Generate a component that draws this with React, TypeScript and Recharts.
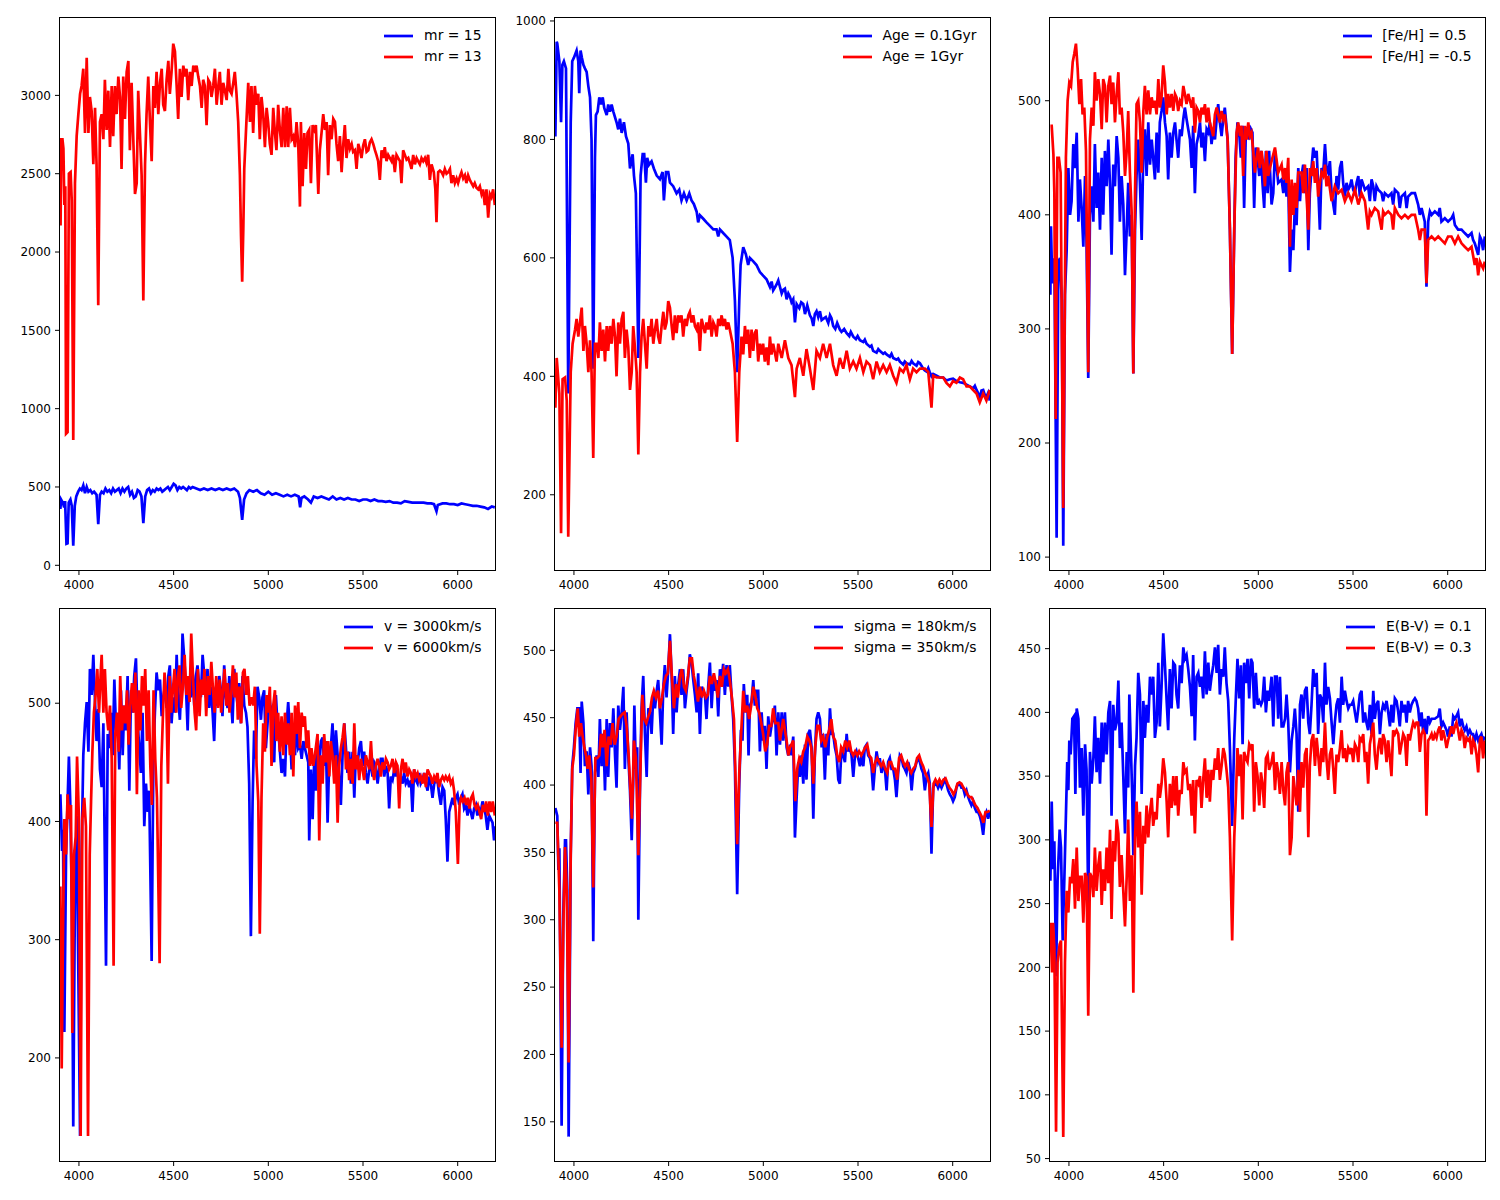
import React from 'react'
import { LineChart, Line, XAxis, YAxis } from 'recharts'

type Pt = [number, number]

const WAVE_TICKS = [4000, 4500, 5000, 5500, 6000]
const WAVE_RANGE: [number, number] = [3900, 6197]

// panel 1: apparent magnitude
const mr15: Pt[] = [
  [3902, 360], [3906, 420], [3915, 400], [3922, 370], [3927, 410], [3934, 137], [3940, 140], [3946, 400], [3955, 420], [3962, 380],
  [3970, 125], [3978, 380], [3986, 440], [3996, 470], [4005, 490], [4014, 480], [4023, 510], [4032, 460], [4041, 500], [4050, 470],
  [4060, 480], [4070, 460], [4080, 470], [4093, 450], [4102, 262], [4111, 450], [4120, 470], [4130, 460], [4140, 490], [4150, 470],
  [4160, 480], [4170, 460], [4180, 490], [4190, 470], [4200, 480], [4210, 490], [4220, 460], [4230, 490], [4240, 470], [4250, 490],
  [4260, 500], [4270, 450], [4280, 470], [4290, 430], [4300, 440], [4310, 480], [4320, 470], [4330, 440], [4340, 269], [4350, 440],
  [4360, 480], [4370, 490], [4380, 460], [4390, 480], [4400, 470], [4410, 490], [4420, 480], [4430, 490], [4440, 470], [4450, 480],
  [4460, 490], [4470, 500], [4480, 480], [4490, 500], [4500, 520], [4510, 510], [4520, 480], [4530, 500], [4540, 490], [4550, 500],
  [4560, 490], [4570, 480], [4580, 500], [4590, 490], [4600, 500], [4620, 490], [4640, 480], [4660, 490], [4680, 480], [4700, 490],
  [4720, 480], [4740, 490], [4760, 480], [4780, 490], [4800, 480], [4820, 490], [4840, 470], [4850, 430], [4862, 290], [4872, 420],
  [4885, 460], [4900, 480], [4920, 470], [4940, 480], [4960, 460], [4980, 450], [5000, 470], [5020, 450], [5040, 460], [5060, 450],
  [5080, 440], [5100, 450], [5120, 440], [5140, 450], [5160, 440], [5168, 370], [5175, 430], [5190, 440], [5210, 420], [5225, 400],
  [5240, 440], [5260, 430], [5280, 440], [5300, 430], [5320, 420], [5340, 440], [5360, 420], [5380, 430], [5400, 420], [5420, 430],
  [5440, 420], [5460, 420], [5480, 410], [5500, 420], [5520, 420], [5540, 410], [5560, 420], [5580, 410], [5600, 410], [5620, 405],
  [5640, 410], [5660, 400], [5680, 400], [5700, 395], [5720, 410], [5740, 405], [5760, 400], [5780, 400], [5800, 400], [5820, 400],
  [5840, 395], [5860, 395], [5875, 390], [5888, 345], [5895, 385], [5920, 395], [5940, 395], [5960, 390], [5980, 390], [6000, 385],
  [6020, 395], [6040, 390], [6060, 385], [6080, 380], [6100, 380], [6120, 375], [6140, 370], [6160, 360], [6180, 375], [6196, 370],
]
const mr13: Pt[] = [
  [3903, 2170], [3907, 2720], [3913, 2720], [3918, 2660], [3923, 2300], [3928, 2420], [3932, 840], [3940, 850], [3947, 2500], [3956, 2510],
  [3962, 2330], [3970, 800], [3979, 2440], [3988, 2740], [3997, 2880], [4006, 3010], [4014, 3060], [4023, 3170], [4032, 2760], [4041, 3240],
  [4050, 2760], [4058, 2990], [4067, 2900], [4076, 2560], [4085, 2920], [4093, 2560], [4102, 1660], [4111, 2830], [4120, 2880], [4129, 2720],
  [4137, 3100], [4146, 2780], [4155, 3030], [4164, 2670], [4173, 3060], [4181, 2740], [4190, 3060], [4199, 2880], [4208, 3120], [4217, 2990],
  [4225, 2530], [4234, 3120], [4243, 2850], [4252, 3150], [4261, 3220], [4269, 2650], [4278, 3080], [4287, 2720], [4296, 2370], [4305, 2440],
  [4313, 3030], [4322, 2760], [4331, 2490], [4340, 1690], [4349, 2560], [4357, 2880], [4366, 3120], [4375, 2830], [4384, 2580], [4393, 3060],
  [4401, 2920], [4410, 3150], [4419, 2880], [4428, 3080], [4437, 3170], [4445, 2940], [4454, 2900], [4463, 3100], [4472, 3220], [4480, 3010],
  [4489, 3150], [4498, 3330], [4507, 3280], [4516, 3060], [4524, 2850], [4533, 3170], [4542, 2990], [4551, 3190], [4560, 3120], [4568, 3170],
  [4577, 2970], [4586, 3150], [4595, 3060], [4604, 3190], [4612, 3150], [4621, 3190], [4630, 3120], [4639, 3060], [4648, 2920], [4656, 3100],
  [4665, 3060], [4674, 2810], [4683, 3100], [4692, 3080], [4700, 2990], [4709, 3060], [4718, 3170], [4727, 2940], [4736, 3060], [4744, 3150],
  [4753, 2940], [4762, 3080], [4771, 3030], [4780, 2970], [4789, 3170], [4797, 3030], [4806, 3010], [4815, 3080], [4823, 3150], [4832, 3010],
  [4841, 2830], [4850, 2490], [4856, 2100], [4862, 1810], [4868, 2150], [4873, 2530], [4885, 2850], [4894, 3080], [4903, 2830], [4911, 3060],
  [4920, 2760], [4929, 3060], [4938, 2940], [4947, 3010], [4955, 2720], [4964, 2990], [4973, 2880], [4982, 2670], [4991, 2920], [4999, 2830],
  [5008, 2690], [5017, 2620], [5026, 2920], [5035, 2760], [5043, 2650], [5052, 2940], [5061, 2780], [5070, 2670], [5079, 2920], [5088, 2670],
  [5097, 2930], [5105, 2670], [5114, 2920], [5123, 2720], [5132, 2740], [5141, 2670], [5149, 2830], [5158, 2690], [5167, 2290], [5172, 2830],
  [5181, 2420], [5190, 2760], [5199, 2530], [5207, 2760], [5216, 2780], [5225, 2440], [5234, 2810], [5243, 2780], [5251, 2810], [5264, 2370],
  [5272, 2650], [5281, 2760], [5290, 2880], [5299, 2780], [5308, 2830], [5316, 2490], [5325, 2810], [5334, 2720], [5343, 2850], [5352, 2830],
  [5360, 2690], [5369, 2580], [5378, 2740], [5387, 2510], [5396, 2690], [5404, 2810], [5413, 2600], [5422, 2720], [5431, 2660], [5440, 2690],
  [5448, 2640], [5457, 2650], [5466, 2530], [5475, 2690], [5484, 2650], [5492, 2600], [5501, 2680], [5510, 2720], [5519, 2640], [5528, 2650],
  [5536, 2700], [5545, 2720], [5554, 2690], [5563, 2650], [5571, 2620], [5580, 2580], [5589, 2460], [5598, 2650], [5607, 2600], [5615, 2670],
  [5624, 2580], [5633, 2620], [5642, 2600], [5651, 2580], [5659, 2620], [5668, 2510], [5677, 2620], [5686, 2600], [5695, 2580], [5703, 2440],
  [5712, 2650], [5721, 2620], [5730, 2590], [5739, 2600], [5747, 2570], [5756, 2530], [5765, 2620], [5774, 2560], [5783, 2600], [5791, 2580],
  [5800, 2560], [5809, 2600], [5818, 2580], [5827, 2600], [5835, 2570], [5844, 2620], [5853, 2460], [5862, 2560], [5874, 2510], [5882, 2400],
  [5888, 2190], [5893, 2400], [5897, 2510], [5906, 2520], [5915, 2510], [5923, 2490], [5932, 2530], [5941, 2500], [5950, 2510], [5959, 2530],
  [5967, 2440], [5976, 2490], [5985, 2440], [5994, 2470], [6002, 2440], [6011, 2480], [6020, 2510], [6029, 2470], [6038, 2490], [6046, 2440],
  [6055, 2490], [6064, 2460], [6073, 2440], [6082, 2420], [6090, 2440], [6099, 2410], [6108, 2400], [6117, 2420], [6126, 2370], [6134, 2400],
  [6143, 2300], [6152, 2400], [6161, 2220], [6170, 2370], [6178, 2350], [6187, 2400], [6196, 2300],
]

// panel 2: age
const age01: Pt[] = [
  [3902, 805], [3909, 965], [3912, 962], [3923, 932], [3932, 829], [3939, 926], [3947, 932], [3958, 920], [3970, 371], [3983, 829],
  [3991, 932], [4000, 938], [4014, 950], [4023, 932], [4028, 878], [4035, 950], [4042, 938], [4050, 926], [4058, 920], [4067, 914],
  [4076, 890], [4085, 871], [4093, 799], [4102, 413], [4111, 769], [4116, 841], [4125, 847], [4134, 871], [4143, 859], [4152, 871],
  [4160, 853], [4173, 841], [4181, 859], [4190, 847], [4199, 859], [4208, 847], [4225, 829], [4234, 817], [4243, 835], [4252, 811],
  [4264, 829], [4275, 805], [4287, 793], [4296, 751], [4310, 775], [4317, 739], [4327, 709], [4340, 431], [4352, 739], [4363, 775],
  [4371, 775], [4380, 727], [4387, 769], [4396, 757], [4410, 763], [4422, 751], [4437, 739], [4454, 733], [4468, 745], [4475, 697],
  [4486, 745], [4498, 745], [4507, 727], [4524, 721], [4542, 709], [4556, 715], [4568, 697], [4581, 709], [4595, 697], [4609, 709],
  [4621, 697], [4633, 691], [4648, 678], [4656, 660], [4665, 672], [4683, 666], [4700, 660], [4718, 654], [4736, 648], [4753, 648],
  [4762, 636], [4771, 648], [4788, 642], [4806, 636], [4823, 630], [4838, 600], [4850, 528], [4862, 407], [4873, 528], [4880, 588],
  [4894, 618], [4908, 606], [4920, 588], [4929, 600], [4947, 594], [4964, 588], [4982, 576], [4999, 570], [5017, 564], [5035, 551],
  [5044, 560], [5052, 545], [5061, 550], [5070, 555], [5079, 562], [5097, 540], [5105, 546], [5114, 548], [5123, 530], [5132, 540],
  [5141, 534], [5149, 525], [5158, 530], [5167, 491], [5176, 522], [5190, 515], [5200, 525], [5211, 522], [5220, 505], [5232, 520],
  [5246, 503], [5255, 498], [5264, 485], [5272, 505], [5281, 510], [5290, 500], [5299, 510], [5308, 495], [5316, 497], [5330, 500],
  [5343, 490], [5352, 503], [5360, 498], [5369, 485], [5380, 480], [5390, 490], [5404, 479], [5413, 475], [5427, 480], [5440, 473],
  [5454, 468], [5462, 475], [5475, 467], [5489, 463], [5498, 468], [5510, 461], [5528, 458], [5536, 462], [5545, 455], [5563, 450],
  [5571, 452], [5580, 443], [5598, 440], [5607, 446], [5615, 443], [5633, 438], [5642, 440], [5651, 437], [5668, 433], [5677, 438],
  [5686, 431], [5703, 428], [5712, 430], [5721, 425], [5739, 420], [5747, 425], [5756, 422], [5774, 420], [5783, 426], [5791, 422],
  [5809, 418], [5818, 424], [5827, 422], [5835, 418], [5844, 413], [5853, 410], [5862, 408], [5871, 414], [5879, 407], [5888, 400],
  [5897, 404], [5915, 401], [5932, 398], [5950, 398], [5967, 393], [5985, 395], [6002, 396], [6020, 392], [6038, 390], [6055, 389],
  [6073, 386], [6090, 383], [6108, 380], [6117, 384], [6126, 377], [6134, 372], [6143, 362], [6152, 376], [6161, 377], [6170, 368],
  [6178, 365], [6187, 372], [6196, 359],
]
const age1: Pt[] = [
  [3902, 347], [3909, 431], [3923, 371], [3932, 135], [3940, 395], [3953, 398], [3962, 359], [3970, 129], [3983, 407], [3993, 455],
  [4006, 479], [4014, 497], [4023, 467], [4032, 491], [4041, 516], [4050, 443], [4058, 485], [4067, 455], [4076, 407], [4085, 461],
  [4093, 407], [4102, 262], [4111, 455], [4120, 455], [4129, 431], [4137, 491], [4146, 443], [4155, 479], [4164, 425], [4173, 485],
  [4181, 443], [4190, 485], [4199, 455], [4208, 497], [4217, 467], [4225, 400], [4234, 491], [4243, 455], [4252, 497], [4261, 509],
  [4269, 431], [4278, 479], [4287, 449], [4296, 377], [4305, 407], [4313, 485], [4322, 449], [4331, 407], [4340, 268], [4349, 407],
  [4357, 467], [4366, 497], [4375, 455], [4384, 413], [4393, 485], [4401, 467], [4410, 497], [4419, 455], [4428, 479], [4437, 497],
  [4445, 467], [4454, 455], [4463, 485], [4472, 509], [4480, 479], [4489, 491], [4498, 527], [4507, 516], [4516, 485], [4524, 461],
  [4533, 503], [4542, 473], [4551, 503], [4560, 491], [4568, 503], [4577, 467], [4586, 497], [4595, 485], [4604, 503], [4612, 509],
  [4621, 491], [4630, 503], [4639, 485], [4648, 479], [4656, 491], [4665, 443], [4674, 497], [4683, 485], [4692, 473], [4700, 491],
  [4709, 479], [4718, 503], [4727, 467], [4736, 491], [4744, 485], [4753, 467], [4762, 497], [4771, 485], [4780, 503], [4788, 485],
  [4797, 497], [4806, 479], [4815, 491], [4823, 479], [4838, 455], [4850, 407], [4862, 289], [4873, 407], [4885, 467], [4894, 437],
  [4903, 485], [4911, 455], [4920, 479], [4929, 431], [4938, 479], [4947, 443], [4955, 473], [4964, 479], [4973, 425], [4982, 455],
  [4991, 437], [4999, 455], [5008, 425], [5017, 449], [5026, 419], [5035, 467], [5043, 437], [5052, 455], [5070, 425], [5079, 455],
  [5097, 431], [5114, 461], [5132, 431], [5149, 419], [5167, 365], [5176, 413], [5193, 431], [5211, 401], [5228, 446], [5246, 413],
  [5264, 377], [5281, 443], [5299, 431], [5316, 455], [5334, 431], [5352, 455], [5369, 419], [5387, 401], [5404, 431], [5422, 413],
  [5440, 443], [5457, 413], [5475, 425], [5492, 413], [5510, 431], [5528, 407], [5545, 425], [5563, 419], [5580, 395], [5598, 425],
  [5615, 407], [5633, 419], [5651, 407], [5668, 419], [5686, 401], [5703, 389], [5721, 413], [5739, 407], [5756, 419], [5774, 395],
  [5791, 413], [5809, 407], [5827, 413], [5853, 413], [5871, 407], [5888, 347], [5897, 401], [5915, 398], [5950, 398], [5967, 389],
  [5985, 383], [6002, 392], [6020, 389], [6038, 398], [6055, 395], [6073, 383], [6090, 383], [6108, 377], [6126, 371], [6143, 356],
  [6161, 371], [6178, 359], [6196, 377],
]

// panel 3: metallicity
const feh05: Pt[] = [
  [3902, 330], [3905, 390], [3912, 340], [3923, 362], [3935, 117], [3944, 359], [3953, 362], [3962, 325], [3970, 110], [3979, 330],
  [3988, 369], [3997, 441], [4006, 400], [4014, 412], [4023, 462], [4032, 441], [4041, 472], [4050, 394], [4058, 431], [4067, 406],
  [4076, 372], [4085, 434], [4093, 375], [4102, 257], [4111, 400], [4120, 425], [4129, 394], [4137, 462], [4146, 406], [4155, 437],
  [4164, 387], [4173, 450], [4181, 400], [4190, 456], [4199, 425], [4208, 466], [4217, 425], [4225, 365], [4234, 444], [4243, 425],
  [4252, 469], [4261, 450], [4269, 394], [4278, 434], [4287, 409], [4296, 347], [4305, 387], [4313, 428], [4322, 381], [4331, 400],
  [4340, 261], [4349, 387], [4357, 434], [4366, 466], [4375, 428], [4384, 378], [4393, 456], [4401, 475], [4410, 434], [4419, 481],
  [4428, 444], [4437, 466], [4445, 450], [4454, 431], [4463, 472], [4472, 437], [4480, 481], [4489, 491], [4498, 503], [4507, 481],
  [4516, 469], [4524, 431], [4533, 472], [4542, 450], [4551, 472], [4560, 481], [4568, 466], [4577, 450], [4586, 475], [4595, 469],
  [4604, 484], [4612, 494], [4621, 484], [4630, 475], [4639, 466], [4648, 441], [4656, 478], [4665, 419], [4674, 462], [4683, 469],
  [4692, 481], [4700, 459], [4709, 472], [4718, 447], [4727, 475], [4736, 472], [4744, 481], [4753, 462], [4762, 475], [4771, 466],
  [4780, 484], [4788, 497], [4797, 481], [4806, 469], [4815, 484], [4823, 494], [4838, 466], [4850, 387], [4862, 278], [4873, 387],
  [4880, 450], [4890, 481], [4899, 472], [4908, 450], [4917, 478], [4925, 406], [4934, 472], [4943, 475], [4952, 466], [4961, 475],
  [4969, 472], [4978, 406], [4987, 459], [4996, 450], [5005, 434], [5014, 456], [5022, 428], [5031, 406], [5040, 456], [5049, 419],
  [5057, 456], [5070, 409], [5079, 419], [5088, 456], [5105, 428], [5123, 431], [5132, 419], [5141, 434], [5149, 416], [5158, 431],
  [5167, 350], [5176, 387], [5185, 369], [5193, 409], [5202, 391], [5211, 441], [5220, 412], [5228, 434], [5237, 444], [5246, 419],
  [5255, 441], [5264, 369], [5272, 419], [5281, 441], [5290, 459], [5299, 450], [5308, 456], [5316, 425], [5325, 387], [5334, 441],
  [5343, 437], [5352, 462], [5360, 441], [5369, 437], [5378, 447], [5387, 419], [5404, 400], [5413, 434], [5422, 422], [5431, 441],
  [5440, 447], [5448, 428], [5457, 416], [5466, 428], [5475, 422], [5484, 425], [5492, 431], [5501, 422], [5510, 419], [5519, 428],
  [5528, 434], [5536, 416], [5545, 431], [5563, 422], [5580, 425], [5589, 412], [5598, 431], [5607, 425], [5615, 412], [5624, 425],
  [5633, 422], [5651, 419], [5659, 412], [5668, 419], [5686, 416], [5703, 419], [5712, 409], [5721, 422], [5739, 419], [5747, 406],
  [5756, 416], [5774, 419], [5783, 406], [5791, 416], [5809, 419], [5827, 419], [5844, 409], [5853, 400], [5862, 406], [5879, 394],
  [5888, 337], [5897, 394], [5906, 403], [5915, 400], [5932, 403], [5950, 400], [5958, 406], [5967, 394], [5985, 397], [6002, 394],
  [6020, 397], [6029, 400], [6038, 391], [6055, 387], [6073, 387], [6090, 384], [6108, 381], [6126, 384], [6134, 378], [6143, 375],
  [6161, 365], [6170, 381], [6178, 378], [6187, 369], [6196, 381],
]
const fehm05: Pt[] = [
  [3902, 478], [3909, 478], [3918, 453], [3923, 419], [3930, 221], [3939, 450], [3947, 450], [3956, 437], [3970, 143], [3984, 450],
  [3993, 500], [4002, 516], [4011, 513], [4020, 534], [4028, 541], [4037, 550], [4046, 528], [4055, 497], [4064, 519], [4072, 488],
  [4081, 494], [4090, 456], [4102, 262], [4111, 466], [4120, 494], [4129, 478], [4137, 525], [4146, 500], [4155, 519], [4164, 506],
  [4173, 475], [4181, 519], [4190, 513], [4199, 481], [4208, 513], [4217, 522], [4225, 497], [4234, 516], [4243, 481], [4252, 506],
  [4261, 525], [4269, 488], [4278, 494], [4287, 472], [4296, 434], [4305, 456], [4313, 491], [4322, 437], [4331, 403], [4340, 261],
  [4349, 419], [4357, 497], [4366, 500], [4375, 481], [4384, 437], [4393, 491], [4401, 513], [4410, 488], [4419, 509], [4428, 488],
  [4437, 503], [4445, 494], [4454, 500], [4463, 488], [4472, 519], [4480, 494], [4489, 503], [4498, 531], [4507, 516], [4516, 488],
  [4524, 506], [4533, 494], [4542, 506], [4551, 491], [4560, 506], [4568, 503], [4577, 491], [4586, 500], [4595, 497], [4604, 513],
  [4612, 506], [4621, 497], [4630, 506], [4639, 500], [4648, 494], [4656, 503], [4665, 472], [4674, 494], [4683, 491], [4692, 481],
  [4700, 494], [4709, 488], [4718, 497], [4727, 481], [4736, 494], [4744, 481], [4753, 475], [4762, 469], [4771, 488], [4780, 494],
  [4788, 488], [4797, 481], [4806, 491], [4815, 484], [4823, 488], [4838, 466], [4850, 387], [4862, 278], [4873, 387], [4885, 472],
  [4894, 481], [4903, 469], [4911, 478], [4920, 434], [4929, 478], [4938, 466], [4947, 481], [4955, 469], [4964, 472], [4973, 456],
  [4982, 437], [4991, 450], [4999, 459], [5008, 441], [5017, 456], [5026, 444], [5035, 425], [5043, 456], [5052, 434], [5070, 447],
  [5088, 459], [5105, 437], [5123, 444], [5132, 431], [5141, 441], [5149, 428], [5158, 450], [5167, 372], [5176, 431], [5185, 400],
  [5193, 428], [5202, 406], [5211, 437], [5228, 437], [5237, 419], [5246, 444], [5264, 387], [5272, 441], [5281, 434], [5290, 447],
  [5299, 428], [5308, 441], [5316, 416], [5325, 428], [5334, 437], [5343, 434], [5352, 444], [5360, 425], [5369, 434], [5387, 412],
  [5404, 425], [5422, 419], [5440, 422], [5457, 412], [5475, 419], [5492, 412], [5510, 422], [5528, 409], [5545, 419], [5563, 412],
  [5580, 387], [5589, 403], [5598, 400], [5615, 406], [5633, 403], [5651, 387], [5659, 403], [5668, 400], [5686, 403], [5703, 400],
  [5712, 387], [5721, 406], [5739, 400], [5756, 397], [5774, 400], [5791, 397], [5809, 400], [5827, 400], [5844, 387], [5853, 378],
  [5862, 387], [5879, 387], [5888, 340], [5897, 378], [5915, 381], [5932, 378], [5950, 381], [5967, 378], [5985, 375], [6002, 381],
  [6020, 381], [6038, 375], [6055, 381], [6073, 375], [6090, 372], [6108, 369], [6126, 372], [6143, 356], [6152, 362], [6161, 347],
  [6170, 359], [6178, 356], [6187, 353], [6196, 359],
]

// panel 4: velocity
const v3000: Pt[] = [
  [3902, 423], [3911, 375], [3916, 393], [3923, 222], [3932, 372], [3947, 455], [3954, 417], [3963, 327], [3970, 142], [3979, 342],
  [3988, 405], [4006, 134], [4014, 372], [4023, 456], [4032, 483], [4041, 501], [4050, 459], [4058, 529], [4067, 507], [4076, 541],
  [4085, 501], [4093, 468], [4102, 495], [4111, 444], [4120, 429], [4129, 483], [4143, 278], [4152, 474], [4160, 462], [4169, 492],
  [4178, 456], [4187, 520], [4196, 477], [4204, 492], [4213, 444], [4222, 511], [4231, 456], [4239, 498], [4248, 477], [4257, 523],
  [4266, 426], [4275, 511], [4283, 492], [4292, 523], [4301, 538], [4310, 483], [4319, 462], [4327, 441], [4336, 492], [4345, 396],
  [4354, 432], [4363, 408], [4371, 426], [4384, 282], [4393, 453], [4401, 492], [4410, 526], [4419, 511], [4428, 520], [4437, 489],
  [4445, 505], [4454, 514], [4463, 496], [4472, 523], [4480, 532], [4489, 483], [4498, 505], [4507, 492], [4516, 541], [4524, 505],
  [4533, 486], [4542, 523], [4547, 559], [4556, 538], [4565, 514], [4574, 477], [4582, 523], [4591, 505], [4600, 529], [4609, 498],
  [4618, 523], [4626, 532], [4635, 514], [4644, 505], [4653, 541], [4662, 523], [4670, 505], [4679, 529], [4688, 496], [4697, 514],
  [4706, 492], [4714, 468], [4723, 514], [4732, 498], [4741, 523], [4750, 511], [4758, 489], [4767, 532], [4776, 505], [4785, 496],
  [4794, 523], [4802, 505], [4811, 483], [4820, 529], [4829, 511], [4838, 498], [4846, 517], [4855, 483], [4864, 523], [4873, 498],
  [4882, 492], [4890, 480], [4899, 432], [4908, 303], [4917, 417], [4925, 477], [4934, 453], [4943, 514], [4952, 505], [4961, 486],
  [4969, 505], [4978, 511], [4987, 462], [4996, 483], [5005, 507], [5014, 492], [5022, 498], [5031, 450], [5040, 507], [5049, 480],
  [5057, 468], [5070, 441], [5079, 453], [5088, 438], [5097, 483], [5105, 501], [5114, 477], [5123, 444], [5132, 468], [5141, 456],
  [5149, 483], [5158, 462], [5167, 465], [5176, 453], [5185, 468], [5193, 462], [5202, 456], [5211, 450], [5216, 384], [5225, 444],
  [5234, 402], [5243, 456], [5251, 426], [5260, 468], [5269, 447], [5278, 468], [5287, 471], [5295, 447], [5304, 468], [5313, 399],
  [5322, 456], [5330, 462], [5339, 483], [5348, 444], [5357, 477], [5366, 456], [5374, 438], [5383, 414], [5392, 456], [5401, 483],
  [5410, 462], [5418, 441], [5427, 459], [5436, 432], [5445, 459], [5454, 420], [5462, 456], [5471, 447], [5480, 462], [5489, 468],
  [5498, 447], [5506, 459], [5515, 441], [5524, 432], [5533, 444], [5542, 450], [5550, 438], [5559, 450], [5568, 447], [5577, 432],
  [5586, 444], [5594, 453], [5603, 453], [5612, 438], [5621, 447], [5630, 441], [5638, 411], [5647, 438], [5656, 435], [5665, 444],
  [5674, 438], [5682, 444], [5691, 432], [5700, 438], [5709, 432], [5717, 441], [5726, 432], [5735, 435], [5744, 429], [5753, 435],
  [5761, 408], [5770, 444], [5779, 435], [5788, 432], [5797, 441], [5805, 432], [5814, 435], [5823, 441], [5832, 432], [5841, 426],
  [5849, 438], [5858, 432], [5867, 420], [5876, 432], [5885, 435], [5893, 435], [5902, 423], [5911, 414], [5920, 429], [5929, 426],
  [5937, 402], [5946, 366], [5955, 408], [5964, 414], [5973, 420], [5981, 414], [5990, 420], [5999, 423], [6008, 414], [6017, 420],
  [6025, 423], [6034, 411], [6043, 414], [6052, 405], [6060, 414], [6069, 408], [6078, 402], [6087, 411], [6096, 414], [6104, 405],
  [6113, 411], [6122, 408], [6131, 417], [6140, 411], [6148, 405], [6157, 393], [6166, 405], [6175, 402], [6184, 399], [6192, 384],
  [6196, 396],
]
const v6000: Pt[] = [
  [3902, 345], [3909, 191], [3916, 311], [3923, 402], [3932, 372], [3940, 423], [3949, 402], [3958, 414], [3965, 221], [3974, 372],
  [3983, 387], [3990, 455], [4000, 402], [4009, 134], [4018, 402], [4028, 420], [4037, 396], [4048, 134], [4057, 372], [4064, 417],
  [4071, 459], [4079, 492], [4088, 507], [4097, 529], [4106, 492], [4115, 526], [4120, 541], [4129, 492], [4137, 529], [4146, 492],
  [4155, 477], [4164, 498], [4173, 453], [4183, 278], [4192, 474], [4201, 492], [4210, 459], [4218, 523], [4227, 477], [4236, 498],
  [4245, 483], [4254, 511], [4262, 465], [4271, 498], [4280, 517], [4289, 492], [4298, 526], [4306, 423], [4315, 511], [4324, 477],
  [4333, 523], [4342, 498], [4350, 529], [4359, 468], [4368, 511], [4377, 447], [4385, 414], [4394, 511], [4403, 453], [4412, 420],
  [4426, 280], [4435, 447], [4444, 492], [4452, 526], [4461, 507], [4470, 432], [4479, 523], [4487, 492], [4496, 511], [4505, 529],
  [4514, 492], [4523, 523], [4531, 532], [4540, 496], [4549, 514], [4558, 541], [4567, 507], [4575, 523], [4584, 501], [4593, 559],
  [4602, 523], [4611, 492], [4619, 477], [4628, 529], [4637, 489], [4646, 520], [4655, 507], [4663, 529], [4672, 489], [4681, 523],
  [4690, 507], [4699, 535], [4707, 514], [4716, 492], [4725, 523], [4734, 496], [4743, 520], [4751, 492], [4760, 511], [4769, 529],
  [4778, 498], [4787, 517], [4795, 492], [4804, 507], [4813, 532], [4822, 505], [4831, 526], [4839, 486], [4848, 514], [4857, 483],
  [4866, 526], [4874, 529], [4883, 507], [4892, 523], [4901, 498], [4911, 505], [4920, 498], [4929, 514], [4938, 447], [4947, 417],
  [4955, 305], [4964, 420], [4973, 483], [4982, 459], [4991, 507], [4999, 492], [5008, 514], [5017, 447], [5026, 498], [5035, 511],
  [5043, 468], [5052, 492], [5061, 459], [5070, 489], [5079, 456], [5088, 492], [5097, 465], [5105, 483], [5114, 456], [5123, 492],
  [5132, 438], [5141, 498], [5149, 474], [5158, 501], [5167, 462], [5176, 492], [5185, 480], [5193, 489], [5202, 462], [5211, 477],
  [5220, 447], [5228, 462], [5237, 447], [5246, 456], [5260, 474], [5269, 384], [5278, 456], [5287, 432], [5295, 474], [5304, 450],
  [5313, 468], [5322, 438], [5330, 468], [5339, 456], [5348, 432], [5357, 456], [5366, 399], [5374, 447], [5383, 462], [5392, 471],
  [5401, 483], [5410, 444], [5418, 459], [5427, 435], [5436, 453], [5445, 432], [5454, 483], [5462, 444], [5471, 456], [5480, 435],
  [5489, 453], [5498, 444], [5506, 435], [5515, 456], [5524, 450], [5533, 444], [5542, 468], [5550, 444], [5559, 435], [5568, 447],
  [5577, 453], [5586, 447], [5594, 438], [5603, 450], [5612, 444], [5621, 453], [5630, 450], [5638, 444], [5647, 447], [5656, 453],
  [5665, 441], [5674, 450], [5682, 447], [5691, 411], [5700, 444], [5709, 453], [5717, 441], [5726, 450], [5735, 438], [5744, 444],
  [5753, 441], [5761, 432], [5770, 444], [5779, 438], [5788, 441], [5797, 435], [5805, 438], [5814, 432], [5823, 441], [5832, 429],
  [5841, 444], [5849, 441], [5858, 438], [5867, 432], [5876, 438], [5885, 435], [5893, 441], [5902, 429], [5911, 435], [5920, 438],
  [5929, 435], [5937, 438], [5946, 435], [5955, 438], [5964, 432], [5973, 435], [5981, 426], [5990, 408], [6001, 364], [6010, 414],
  [6018, 420], [6027, 417], [6036, 420], [6045, 414], [6053, 420], [6062, 411], [6071, 420], [6080, 423], [6089, 414], [6097, 411],
  [6106, 414], [6115, 408], [6124, 402], [6133, 414], [6141, 408], [6150, 417], [6159, 405], [6168, 417], [6177, 408], [6185, 417],
  [6196, 405],
]

// panel 5: velocity dispersion
const sig180: Pt[] = [
  [3902, 383], [3912, 377], [3918, 337], [3923, 353], [3935, 147], [3944, 306], [3953, 359], [3958, 359], [3965, 322], [3972, 139],
  [3983, 348], [3991, 414], [4000, 428], [4009, 446], [4018, 457], [4027, 457], [4035, 409], [4041, 462], [4050, 446], [4058, 414],
  [4067, 425], [4076, 393], [4085, 428], [4093, 414], [4102, 284], [4111, 409], [4120, 422], [4129, 406], [4137, 449], [4146, 414],
  [4155, 438], [4164, 396], [4173, 449], [4181, 406], [4190, 446], [4199, 428], [4208, 457], [4217, 422], [4225, 398], [4234, 459],
  [4243, 441], [4252, 454], [4261, 473], [4269, 412], [4278, 454], [4287, 422], [4296, 396], [4305, 359], [4313, 401], [4319, 459],
  [4327, 412], [4334, 428], [4340, 300], [4349, 401], [4357, 457], [4366, 481], [4375, 438], [4384, 406], [4393, 457], [4401, 454],
  [4410, 438], [4419, 467], [4428, 457], [4437, 470], [4445, 478], [4454, 454], [4463, 430], [4472, 473], [4480, 489], [4489, 465],
  [4498, 486], [4507, 512], [4516, 481], [4524, 438], [4533, 481], [4542, 454], [4551, 475], [4560, 486], [4568, 467], [4577, 486],
  [4586, 457], [4595, 470], [4604, 481], [4612, 497], [4621, 491], [4630, 478], [4639, 467], [4648, 454], [4656, 483], [4665, 438],
  [4674, 473], [4683, 470], [4692, 467], [4700, 449], [4709, 473], [4718, 491], [4727, 457], [4736, 481], [4744, 470], [4753, 478],
  [4762, 451], [4771, 486], [4780, 478], [4788, 490], [4797, 467], [4806, 489], [4815, 473], [4823, 489], [4832, 467], [4841, 449],
  [4850, 414], [4862, 319], [4873, 401], [4882, 441], [4890, 433], [4897, 475], [4906, 454], [4915, 467], [4922, 422], [4929, 459],
  [4938, 462], [4947, 478], [4955, 459], [4964, 470], [4973, 470], [4982, 425], [4991, 454], [4999, 433], [5008, 444], [5017, 412],
  [5026, 451], [5035, 436], [5043, 444], [5052, 449], [5061, 459], [5070, 422], [5079, 454], [5088, 430], [5097, 454], [5105, 433],
  [5114, 454], [5123, 428], [5132, 422], [5141, 430], [5149, 422], [5158, 436], [5167, 361], [5176, 391], [5185, 417], [5193, 406],
  [5202, 422], [5211, 401], [5220, 430], [5228, 404], [5237, 438], [5246, 441], [5255, 428], [5264, 375], [5272, 422], [5281, 449],
  [5290, 454], [5299, 449], [5308, 428], [5316, 438], [5325, 404], [5334, 438], [5343, 422], [5352, 457], [5360, 438], [5369, 438],
  [5378, 428], [5387, 422], [5396, 404], [5404, 401], [5413, 428], [5422, 422], [5431, 417], [5440, 438], [5448, 425], [5457, 428],
  [5466, 422], [5475, 406], [5484, 422], [5492, 425], [5501, 420], [5510, 414], [5519, 422], [5528, 414], [5536, 428], [5545, 430],
  [5554, 422], [5563, 420], [5571, 414], [5580, 396], [5589, 412], [5598, 425], [5607, 417], [5615, 420], [5624, 409], [5633, 414],
  [5642, 412], [5651, 396], [5659, 417], [5668, 420], [5677, 412], [5686, 412], [5695, 404], [5703, 391], [5712, 409], [5721, 422],
  [5730, 420], [5739, 414], [5747, 412], [5756, 409], [5765, 417], [5774, 412], [5783, 396], [5791, 409], [5800, 412], [5809, 417],
  [5818, 420], [5827, 417], [5835, 412], [5844, 409], [5853, 396], [5862, 406], [5871, 409], [5879, 401], [5888, 349], [5897, 398],
  [5906, 401], [5915, 401], [5923, 398], [5932, 401], [5941, 398], [5950, 401], [5958, 404], [5967, 401], [5976, 396], [5985, 393],
  [5994, 391], [6002, 388], [6011, 391], [6020, 398], [6029, 401], [6038, 401], [6046, 398], [6055, 398], [6064, 393], [6073, 396],
  [6082, 391], [6090, 388], [6099, 385], [6108, 388], [6117, 383], [6126, 380], [6134, 380], [6143, 377], [6152, 372], [6161, 363],
  [6170, 377], [6178, 380], [6187, 375], [6196, 380],
]
const sig350: Pt[] = [
  [3902, 372], [3912, 372], [3923, 322], [3935, 205], [3944, 295], [3953, 354], [3962, 322], [3972, 194], [3983, 348], [3991, 412],
  [4000, 422], [4009, 441], [4020, 457], [4028, 436], [4037, 446], [4046, 436], [4055, 428], [4064, 422], [4072, 412], [4081, 422],
  [4092, 404], [4102, 324], [4113, 420], [4123, 420], [4134, 422], [4143, 438], [4152, 428], [4162, 441], [4173, 414], [4183, 436],
  [4194, 430], [4204, 446], [4215, 430], [4225, 436], [4236, 449], [4246, 451], [4257, 453], [4268, 454], [4278, 444], [4289, 422],
  [4298, 396], [4306, 375], [4317, 433], [4327, 420], [4340, 348], [4350, 406], [4361, 467], [4371, 449], [4382, 446], [4393, 451],
  [4401, 454], [4412, 465], [4422, 470], [4433, 465], [4444, 470], [4454, 457], [4465, 465], [4475, 475], [4486, 481], [4496, 483],
  [4507, 507], [4517, 481], [4528, 457], [4539, 475], [4549, 465], [4560, 481], [4570, 486], [4581, 473], [4591, 470], [4602, 481],
  [4612, 494], [4623, 494], [4633, 481], [4644, 473], [4655, 462], [4665, 473], [4676, 465], [4686, 470], [4697, 465], [4707, 467],
  [4718, 481], [4728, 475], [4739, 483], [4750, 475], [4760, 465], [4771, 481], [4781, 473], [4792, 486], [4802, 483], [4813, 486],
  [4823, 478], [4834, 465], [4845, 449], [4853, 406], [4862, 356], [4873, 409], [4883, 438], [4894, 470], [4904, 454], [4915, 459],
  [4925, 449], [4936, 459], [4947, 473], [4957, 467], [4968, 457], [4978, 454], [4989, 446], [4999, 438], [5010, 425], [5020, 430],
  [5031, 444], [5042, 444], [5052, 457], [5063, 446], [5079, 446], [5088, 433], [5105, 449], [5123, 433], [5132, 422], [5141, 428],
  [5158, 433], [5169, 388], [5179, 412], [5190, 420], [5200, 417], [5211, 425], [5221, 428], [5232, 436], [5243, 433], [5253, 428],
  [5264, 401], [5274, 428], [5285, 444], [5295, 444], [5306, 433], [5316, 436], [5327, 428], [5338, 436], [5348, 441], [5359, 449],
  [5369, 436], [5380, 433], [5390, 422], [5401, 417], [5411, 428], [5422, 425], [5433, 433], [5443, 428], [5454, 433], [5464, 425],
  [5475, 422], [5485, 425], [5496, 422], [5506, 425], [5517, 422], [5528, 425], [5538, 428], [5549, 430], [5559, 422], [5570, 420],
  [5580, 409], [5591, 417], [5601, 420], [5612, 417], [5623, 414], [5633, 417], [5644, 412], [5654, 409], [5665, 417], [5675, 417],
  [5686, 412], [5696, 412], [5707, 404], [5717, 420], [5728, 422], [5739, 417], [5749, 414], [5760, 417], [5770, 412], [5781, 409],
  [5791, 412], [5802, 414], [5812, 420], [5823, 422], [5834, 417], [5844, 414], [5855, 409], [5865, 406], [5876, 401], [5888, 369],
  [5899, 401], [5909, 404], [5920, 401], [5930, 404], [5941, 401], [5951, 404], [5962, 405], [5973, 401], [5983, 398], [5994, 396],
  [6004, 393], [6015, 396], [6025, 401], [6036, 402], [6046, 401], [6057, 398], [6068, 396], [6078, 393], [6089, 391], [6099, 391],
  [6110, 388], [6120, 385], [6131, 383], [6141, 380], [6152, 377], [6162, 372], [6173, 380], [6184, 380], [6196, 381],
]

// panel 6: reddening
const ebv01: Pt[] = [
  [3902, 268], [3909, 330], [3916, 277], [3923, 299], [3932, 193], [3940, 268], [3951, 308], [3958, 294], [3967, 221], [3976, 271],
  [3983, 313], [3991, 361], [3997, 339], [4002, 378], [4009, 367], [4018, 395], [4027, 397], [4034, 336], [4041, 403], [4050, 395],
  [4058, 341], [4067, 372], [4076, 319], [4085, 375], [4093, 355], [4102, 249], [4111, 369], [4120, 344], [4129, 364], [4137, 397],
  [4146, 353], [4155, 380], [4164, 344], [4173, 392], [4181, 361], [4190, 392], [4199, 367], [4208, 400], [4217, 409], [4225, 319],
  [4234, 406], [4243, 386], [4252, 392], [4261, 425], [4269, 372], [4278, 392], [4287, 350], [4296, 305], [4305, 369], [4313, 341],
  [4319, 414], [4327, 372], [4334, 336], [4340, 288], [4349, 358], [4357, 380], [4366, 431], [4375, 414], [4384, 336], [4393, 409],
  [4401, 380], [4410, 406], [4419, 392], [4428, 428], [4437, 414], [4445, 428], [4454, 380], [4463, 392], [4472, 439], [4480, 389],
  [4489, 420], [4498, 462], [4507, 437], [4516, 409], [4524, 386], [4533, 434], [4542, 403], [4551, 439], [4560, 437], [4568, 414],
  [4577, 403], [4586, 437], [4595, 423], [4604, 451], [4612, 442], [4621, 445], [4630, 434], [4639, 420], [4648, 397], [4656, 445],
  [4665, 378], [4674, 428], [4683, 431], [4692, 420], [4700, 428], [4709, 411], [4718, 448], [4727, 414], [4736, 439], [4744, 417],
  [4753, 428], [4762, 437], [4771, 451], [4780, 431], [4788, 453], [4797, 414], [4806, 434], [4815, 428], [4823, 451], [4832, 423],
  [4841, 409], [4850, 372], [4862, 311], [4873, 380], [4882, 414], [4890, 442], [4899, 411], [4908, 437], [4917, 375], [4925, 439],
  [4934, 423], [4943, 442], [4952, 411], [4961, 442], [4969, 439], [4978, 403], [4987, 431], [4996, 406], [5005, 409], [5014, 406],
  [5022, 409], [5031, 428], [5040, 400], [5049, 417], [5057, 409], [5070, 428], [5079, 389], [5088, 428], [5097, 428], [5105, 395],
  [5114, 428], [5123, 389], [5132, 389], [5141, 395], [5149, 414], [5158, 392], [5167, 353], [5176, 378], [5185, 389], [5193, 403],
  [5202, 383], [5211, 322], [5220, 406], [5228, 414], [5237, 395], [5246, 417], [5255, 420], [5264, 392], [5272, 383], [5281, 406],
  [5290, 434], [5299, 420], [5308, 431], [5316, 383], [5325, 414], [5334, 411], [5343, 392], [5352, 439], [5360, 406], [5369, 420],
  [5378, 411], [5387, 392], [5396, 375], [5404, 392], [5413, 406], [5422, 411], [5431, 392], [5440, 428], [5448, 406], [5457, 417],
  [5466, 409], [5475, 403], [5484, 406], [5492, 406], [5501, 409], [5510, 400], [5519, 392], [5528, 403], [5536, 414], [5545, 417],
  [5554, 392], [5563, 400], [5571, 392], [5580, 386], [5589, 406], [5598, 383], [5607, 417], [5615, 395], [5624, 406], [5633, 409],
  [5642, 383], [5651, 400], [5659, 406], [5668, 403], [5677, 409], [5686, 400], [5695, 389], [5703, 406], [5712, 392], [5721, 411],
  [5730, 409], [5739, 400], [5747, 389], [5756, 409], [5765, 400], [5774, 406], [5783, 392], [5791, 409], [5800, 400], [5809, 406],
  [5818, 409], [5827, 411], [5835, 409], [5844, 403], [5853, 389], [5862, 400], [5871, 383], [5879, 395], [5888, 383], [5897, 397],
  [5906, 392], [5915, 395], [5932, 395], [5950, 397], [5958, 403], [5967, 389], [5976, 392], [5985, 389], [5994, 386], [6002, 381],
  [6011, 389], [6020, 381], [6029, 397], [6038, 395], [6046, 397], [6055, 400], [6064, 389], [6073, 395], [6082, 389], [6090, 386],
  [6099, 389], [6108, 383], [6117, 386], [6126, 383], [6134, 383], [6143, 378], [6152, 383], [6161, 378], [6170, 381], [6178, 383],
  [6187, 378], [6196, 381],
]
const ebv03: Pt[] = [
  [3902, 235], [3911, 196], [3916, 235], [3923, 215], [3932, 71], [3940, 204], [3951, 218], [3958, 221], [3970, 67], [3979, 204],
  [3988, 260], [3997, 243], [4006, 271], [4014, 266], [4023, 285], [4032, 246], [4041, 294], [4050, 252], [4058, 271], [4067, 271],
  [4076, 235], [4085, 274], [4093, 271], [4102, 162], [4111, 274], [4120, 271], [4129, 255], [4137, 294], [4146, 260], [4155, 280],
  [4164, 291], [4173, 249], [4181, 277], [4190, 260], [4199, 294], [4208, 266], [4217, 308], [4225, 238], [4234, 299], [4243, 283],
  [4252, 316], [4261, 305], [4269, 263], [4278, 288], [4287, 260], [4296, 232], [4305, 271], [4313, 316], [4322, 252], [4331, 288],
  [4340, 180], [4349, 302], [4357, 330], [4366, 294], [4375, 322], [4384, 257], [4393, 311], [4401, 297], [4410, 327], [4419, 302],
  [4428, 322], [4437, 333], [4445, 311], [4454, 322], [4463, 316], [4472, 344], [4480, 333], [4489, 344], [4498, 364], [4507, 353],
  [4516, 330], [4524, 302], [4533, 344], [4542, 325], [4551, 350], [4560, 327], [4568, 350], [4577, 319], [4586, 339], [4595, 336],
  [4604, 361], [4612, 353], [4621, 355], [4630, 339], [4639, 344], [4648, 319], [4656, 347], [4665, 305], [4674, 347], [4683, 344],
  [4692, 350], [4700, 325], [4709, 347], [4718, 364], [4727, 333], [4736, 355], [4744, 330], [4753, 355], [4762, 347], [4771, 364],
  [4780, 355], [4788, 372], [4797, 347], [4806, 358], [4815, 372], [4823, 367], [4832, 355], [4841, 341], [4850, 302], [4862, 221],
  [4873, 302], [4882, 336], [4890, 372], [4899, 350], [4908, 367], [4917, 316], [4925, 369], [4934, 364], [4943, 361], [4952, 375],
  [4961, 372], [4969, 375], [4978, 322], [4987, 361], [4996, 350], [5005, 327], [5014, 353], [5022, 344], [5031, 325], [5040, 364],
  [5049, 367], [5057, 355], [5070, 361], [5079, 369], [5088, 339], [5097, 361], [5105, 353], [5114, 336], [5123, 361], [5132, 339],
  [5141, 327], [5149, 353], [5158, 361], [5167, 288], [5176, 302], [5185, 350], [5193, 339], [5202, 327], [5211, 355], [5220, 322],
  [5228, 361], [5237, 341], [5246, 367], [5255, 372], [5264, 302], [5272, 358], [5281, 378], [5290, 383], [5299, 358], [5308, 380],
  [5316, 367], [5325, 350], [5334, 372], [5343, 361], [5352, 392], [5360, 364], [5369, 347], [5378, 367], [5387, 372], [5396, 355],
  [5404, 336], [5413, 367], [5422, 361], [5431, 372], [5440, 386], [5448, 364], [5457, 372], [5466, 361], [5475, 372], [5484, 369],
  [5492, 372], [5501, 361], [5510, 375], [5519, 372], [5528, 361], [5536, 380], [5545, 378], [5554, 383], [5563, 361], [5571, 369],
  [5580, 344], [5589, 375], [5598, 383], [5607, 392], [5615, 367], [5624, 355], [5633, 372], [5642, 380], [5651, 367], [5659, 383],
  [5668, 378], [5677, 361], [5686, 378], [5695, 364], [5703, 350], [5712, 386], [5721, 383], [5730, 386], [5739, 383], [5747, 367],
  [5756, 375], [5765, 383], [5774, 380], [5783, 358], [5791, 383], [5800, 378], [5809, 386], [5818, 392], [5827, 389], [5835, 392],
  [5844, 392], [5853, 369], [5862, 383], [5871, 386], [5879, 383], [5888, 319], [5897, 378], [5906, 380], [5915, 383], [5923, 378],
  [5932, 383], [5941, 380], [5950, 386], [5958, 389], [5967, 378], [5976, 386], [5985, 380], [5994, 372], [6002, 378], [6011, 383],
  [6020, 389], [6029, 383], [6038, 389], [6046, 392], [6055, 386], [6064, 378], [6073, 386], [6082, 383], [6090, 372], [6099, 380],
  [6108, 378], [6117, 380], [6126, 367], [6134, 378], [6143, 375], [6152, 367], [6161, 353], [6170, 378], [6178, 381], [6187, 364],
  [6196, 378],
]

const FONT = '"DejaVu Sans", sans-serif'
const BLUE = '#0000ff'
const RED = '#ff0000'
const LW = 2.7

const panels = [
  { x: 60, y: 18, blue: mr15, red: mr13, labels: ['mr = 15', 'mr = 13'], yDomain: [-30, 3494], yTicks: [0, 500, 1000, 1500, 2000, 2500, 3000] },
  { x: 555, y: 18, blue: age01, red: age1, labels: ['Age = 0.1Gyr', 'Age = 1Gyr'], yDomain: [73, 1005], yTicks: [200, 400, 600, 800, 1000] },
  { x: 1050, y: 18, blue: feh05, red: fehm05, labels: ['[Fe/H] = 0.5', '[Fe/H] = -0.5'], yDomain: [88.7, 572.5], yTicks: [100, 200, 300, 400, 500] },
  { x: 60, y: 609, blue: v3000, red: v6000, labels: ['v = 3000km/s', 'v = 6000km/s'], yDomain: [112.8, 579.7], yTicks: [200, 300, 400, 500] },
  { x: 555, y: 609, blue: sig180, red: sig350, labels: ['sigma = 180km/s', 'sigma = 350km/s'], yDomain: [120.9, 530.7], yTicks: [150, 200, 250, 300, 350, 400, 450, 500] },
  { x: 1050, y: 609, blue: ebv01, red: ebv03, labels: ['E(B-V) = 0.1', 'E(B-V) = 0.3'], yDomain: [48.1, 481.1], yTicks: [50, 100, 150, 200, 250, 300, 350, 400, 450] },
]

const toRows = (pts: Pt[]) => pts.map(([w, f]) => ({ w, f }))

const tickStyle = { fill: '#000', fontSize: 12, fontFamily: FONT }

function Panel({ p }: { p: (typeof panels)[number] }) {
  return (
    <div style={{ position: 'absolute', left: p.x - 60, top: p.y - 10, width: 505, height: 602 }}>
      <LineChart width={505} height={602} margin={{ top: 10, right: 10, bottom: 0, left: 0 }}>
        <XAxis
          dataKey="w"
          type="number"
          domain={WAVE_RANGE}
          ticks={WAVE_TICKS}
          allowDataOverflow
          interval={0}
          height={40}
          tickSize={5}
          tickMargin={5}
          axisLine={false}
          tickLine={{ stroke: '#000' }}
          tick={tickStyle}
        />
        <YAxis
          type="number"
          domain={p.yDomain}
          ticks={p.yTicks}
          allowDataOverflow
          interval={0}
          width={60}
          tickSize={5}
          tickMargin={4}
          axisLine={false}
          tickLine={{ stroke: '#000' }}
          tick={tickStyle}
        />
        <Line data={toRows(p.blue)} dataKey="f" stroke={BLUE} strokeWidth={LW} dot={false} activeDot={false} isAnimationActive={false} />
        <Line data={toRows(p.red)} dataKey="f" stroke={RED} strokeWidth={LW} dot={false} activeDot={false} isAnimationActive={false} />
      </LineChart>
      <svg width={505} height={602} style={{ position: 'absolute', left: 0, top: 0, pointerEvents: 'none' }}>
        <rect x={59.5} y={9.5} width={436} height={553} fill="none" stroke="#000" strokeWidth={1} />
      </svg>
      <div
        style={{
          position: 'absolute',
          right: 23.5,
          top: 18,
          display: 'flex',
          flexDirection: 'column',
          alignItems: 'flex-start',
          fontFamily: FONT,
          fontSize: 13.9,
          color: '#000',
          pointerEvents: 'none',
        }}
      >
        {[BLUE, RED].map((c, i) => (
          <div key={c} style={{ display: 'flex', alignItems: 'center', height: 20.7 }}>
            <svg width={29} height={4}>
              <line x1={0} y1={2} x2={29} y2={2} stroke={c} strokeWidth={LW} />
            </svg>
            <span style={{ marginLeft: 10.7, whiteSpace: 'nowrap', lineHeight: 1 }}>{p.labels[i]}</span>
          </div>
        ))}
      </div>
    </div>
  )
}

export default function App() {
  return (
    <div style={{ position: 'absolute', left: 0, top: 0, width: 1500, height: 1200, background: '#fff' }}>
      {panels.map((p) => (
        <Panel key={p.labels[0]} p={p} />
      ))}
    </div>
  )
}
